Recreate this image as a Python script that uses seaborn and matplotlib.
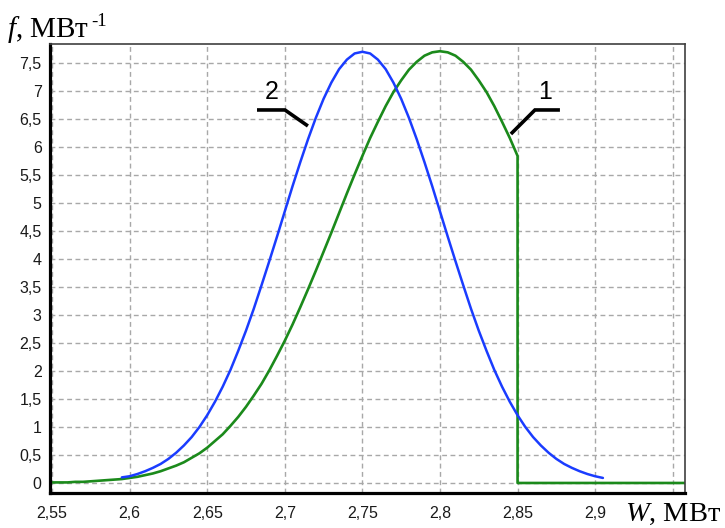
import numpy as np
import matplotlib
matplotlib.use("Agg")
import matplotlib.pyplot as plt
from matplotlib.ticker import FixedLocator, FixedFormatter, MultipleLocator
import seaborn as sns

# Curve 2: density of W, sampled every 0.005 МВт
w_curve2 = np.round(np.linspace(2.595, 2.905, 63), 3)
f_curve2 = [0.10, 0.12, 0.16, 0.21, 0.27, 0.34, 0.43, 0.54, 0.67, 0.82, 1.00,
            1.21, 1.45, 1.72, 2.02, 2.36, 2.72, 3.11, 3.53, 3.96, 4.40, 4.85,
            5.30, 5.73, 6.14, 6.52, 6.86, 7.15, 7.39, 7.56, 7.67,
            7.70,
            7.67, 7.56, 7.39, 7.15, 6.86, 6.52, 6.14, 5.73, 5.30, 4.85, 4.40,
            3.96, 3.53, 3.11, 2.72, 2.36, 2.02, 1.72, 1.45, 1.21, 1.00, 0.82,
            0.67, 0.54, 0.43, 0.34, 0.27, 0.21, 0.16, 0.12, 0.09]

# Curve 1: truncated density, cut off at 2.85 МВт
w_curve1 = list(np.round(np.linspace(2.55, 2.85, 61), 3)) + [2.85, 2.96]
f_curve1 = [0.01, 0.01, 0.01, 0.02, 0.02, 0.03, 0.04, 0.05, 0.06, 0.07, 0.09,
            0.11, 0.14, 0.17, 0.21, 0.26, 0.31, 0.37, 0.45, 0.53, 0.63, 0.75,
            0.87, 1.02, 1.18, 1.36, 1.56, 1.77, 2.01, 2.27, 2.54, 2.83, 3.14,
            3.46, 3.79, 4.13, 4.47, 4.82, 5.17, 5.51, 5.84, 6.16, 6.45, 6.73,
            6.98, 7.19, 7.38, 7.52, 7.63, 7.69, 7.71,
            7.69, 7.63, 7.52, 7.38, 7.19, 6.98, 6.73, 6.45, 6.16, 5.84,
            0.0, 0.0]

x_ticks = [2.55, 2.60, 2.65, 2.70, 2.75, 2.80, 2.85, 2.90, 2.95]
x_tick_labels = ["2,55", "2,6", "2,65", "2,7", "2,75", "2,8", "2,85", "2,9", ""]
y_ticks = [0, 0.5, 1, 1.5, 2, 2.5, 3, 3.5, 4, 4.5, 5, 5.5, 6, 6.5, 7, 7.5]
y_tick_labels = ["0", "0,5", "1", "1,5", "2", "2,5", "3", "3,5", "4", "4,5",
                 "5", "5,5", "6", "6,5", "7", "7,5"]

sns.set_style("white")
plt.rcParams["font.family"] = ["Liberation Sans", "DejaVu Sans"]
plt.rcParams["mathtext.fontset"] = "custom"
plt.rcParams["mathtext.rm"] = "Liberation Serif"
plt.rcParams["mathtext.it"] = "Liberation Serif:italic"

W, H = 725, 528
fig = plt.figure(figsize=(W / 100, H / 100), dpi=100)
ax = fig.add_axes([50 / W, 35 / H, 635 / W, 449 / H])

ax.set_xlim(2.5487, 2.9579)
ax.set_ylim(-0.179, 7.839)

ax.grid(True, color="#a8a8a8", linestyle=(0, (3.5, 2.5)), linewidth=1.0)
ax.set_axisbelow(True)

sns.lineplot(x=w_curve1, y=f_curve1, ax=ax, color="#1b8a1b", linewidth=1.9,
             estimator=None, sort=False)
sns.lineplot(x=w_curve2, y=f_curve2, ax=ax, color="#1a3cff", linewidth=1.8,
             estimator=None, sort=False)

# axis ticks with decimal commas
ax.xaxis.set_major_locator(FixedLocator(x_ticks))
ax.xaxis.set_major_formatter(FixedFormatter(x_tick_labels))
ax.xaxis.set_minor_locator(MultipleLocator(0.0125))
ax.yaxis.set_major_locator(FixedLocator(y_ticks))
ax.yaxis.set_major_formatter(FixedFormatter(y_tick_labels))
ax.tick_params(axis="x", which="major", direction="out", length=3.5, width=1,
               color="#909090", pad=6, labelsize=11.5, labelcolor="#1a1a1a")
ax.tick_params(axis="x", which="minor", direction="out", length=2.5, width=1,
               color="#909090")
ax.tick_params(axis="y", which="major", direction="inout", length=6, width=1,
               color="#909090", pad=3, labelsize=11.5, labelcolor="#1a1a1a")
ax.set_xlabel("")
ax.set_ylabel("")

for side in ("left", "bottom"):
    ax.spines[side].set_color("black")
    ax.spines[side].set_linewidth(2.3)
for side in ("top", "right"):
    ax.spines[side].set_color("#404040")
    ax.spines[side].set_linewidth(1.2)

# curve labels with leader lines
ax.text(2.6918, 6.98, "2", ha="center", va="center", fontsize=18, color="black")
ax.plot([2.6821, 2.7001, 2.7149], [6.661, 6.661, 6.375], color="black",
        linewidth=2.6, solid_capstyle="butt", solid_joinstyle="miter")
ax.text(2.8677, 6.98, "1", ha="center", va="center", fontsize=18, color="black")
ax.plot([2.8773, 2.8612, 2.8457], [6.661, 6.661, 6.232], color="black",
        linewidth=2.6, solid_capstyle="butt", solid_joinstyle="miter")

# axis titles; the exponent sits right after the unit text
ylab = fig.text(7 / W, 1 - 37 / H, r"$\mathit{f}$, МВт", family="Liberation Serif",
                fontsize=21, ha="left", va="baseline", color="black")
fig.canvas.draw()
ext = ylab.get_window_extent()
fig.text((ext.x1 + 2) / W, 1 - 26 / H, "-1", family="Liberation Serif",
         fontsize=13.5, ha="left", va="baseline", color="black")
fig.text(721 / W, 1 - 521 / H, r"$\mathit{W}$, МВт", family="Liberation Serif",
         fontsize=20.5, ha="right", va="baseline", color="black")

fig.savefig("out.png", dpi=100)
